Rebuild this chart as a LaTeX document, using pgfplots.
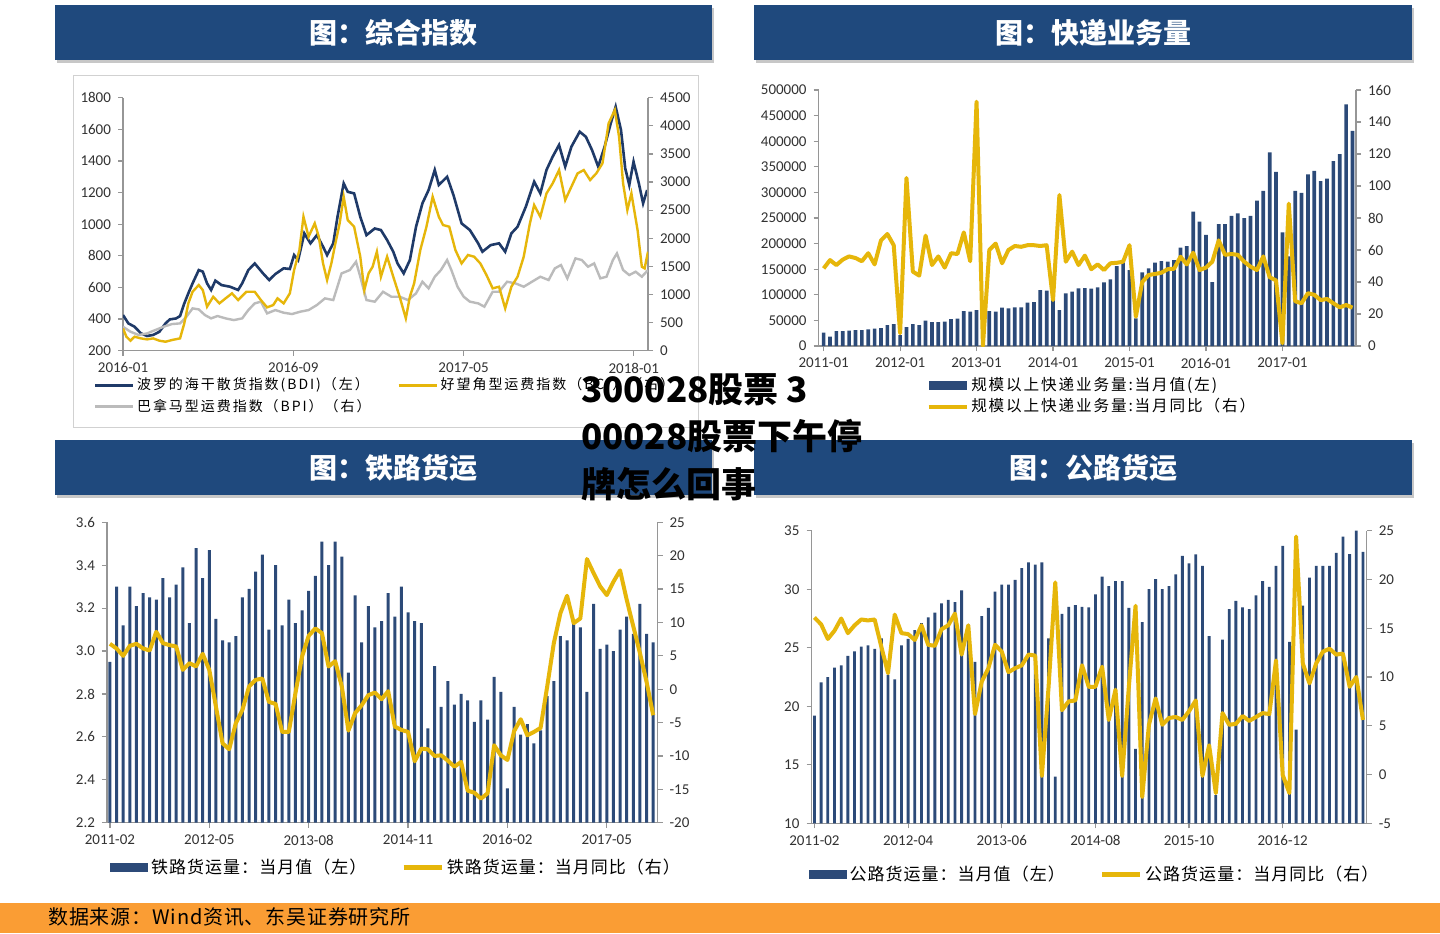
\documentclass[border=0pt]{standalone}
\usepackage{pgfplots}
\pgfplotsset{compat=1.18}
\usepackage{fontspec}
\setmainfont{Carlito}
\newfontfamily\cjk{Noto Sans CJK SC}
\newfontfamily\cjkA{Noto Sans CJK SC}[LetterSpace=14]
\newfontfamily\cjkB{Noto Sans CJK SC}[LetterSpace=12]
\newfontfamily\cjkC{Noto Sans CJK SC}[LetterSpace=6]
\newfontfamily\cjkD{Noto Sans CJK SC}[LetterSpace=4]
\definecolor{titleblue}{RGB}{31,73,125}
\definecolor{barblue}{RGB}{44,74,120}
\definecolor{bdiblue}{RGB}{31,58,104}
\definecolor{gold}{RGB}{230,182,10}
\definecolor{bpigray}{RGB}{187,187,187}
\definecolor{axgray}{RGB}{150,150,150}
\definecolor{orangebar}{RGB}{250,157,52}
\definecolor{ticktext}{RGB}{50,50,50}

\pgfplotsset{
  twin/.style={scale only axis, anchor=south west,
    axis line style={draw=axgray, line width=0.6pt},
    tick style={draw=axgray, line width=0.6pt},
    tick align=outside, major tick length=2.5pt,
    tick label style={font=\fontsize{7.5}{9}\selectfont, text=ticktext},
    scaled y ticks=false, scaled x ticks=false,
    /pgf/number format/assume math mode=true,
    legend cell align=left},
  leftax/.style={twin, axis x line*=bottom, axis y line*=left},
  rightax/.style={twin, axis x line=none, axis y line*=right},
  lineimg/.style={legend image code/.code={\draw[#1] (0pt,0pt) -- (19pt,0pt);}},
  barimg/.style={legend image code/.code={\fill[barblue] (0pt,-2.3pt) rectangle (19pt,2.3pt);}},
}

% ---------- Panel 1: composite indices ----------
\pgfplotstableread{
m v
0 426
0.25 373
0.54 352
0.84 310
1.13 293
1.42 300
1.71 320
2.0 373
2.2 398
2.49 404
2.68 419
2.88 499
3.07 563
3.27 626
3.56 710
3.75 700
3.95 626
4.14 584
4.34 643
4.63 615
5.02 605
5.41 584
5.6 626
5.89 710
6.19 752
6.58 689
6.87 647
7.16 685
7.55 721
7.84 717
8.04 805
8.23 773
8.52 942
8.81 879
9.11 931
9.4 858
9.59 805
9.88 879
10.08 1047
10.37 1258
10.56 1205
10.86 1195
11.15 1047
11.44 931
11.83 973
12.12 963
12.41 900
12.7 826
12.9 752
13.19 689
13.48 773
13.77 984
14.07 1132
14.36 1216
14.65 1343
14.84 1248
15.23 1300
15.53 1184
15.91 1005
16.3 963
16.69 879
16.89 826
17.28 868
17.67 879
17.96 826
18.25 942
18.54 984
18.93 1111
19.32 1269
19.61 1195
19.9 1343
20.19 1427
20.49 1501
20.78 1364
21.07 1490
21.46 1585
21.75 1553
22.04 1469
22.33 1364
22.63 1490
22.92 1638
23.15 1743
23.4 1596
23.6 1353
23.79 1248
23.99 1395
24.24 1258
24.44 1132
24.63 1216
}\bdi

\pgfplotstableread{
m v
0 397
0.16 249
0.35 178
0.54 249
0.84 219
1.13 202
1.42 219
1.71 178
2.0 160
2.3 190
2.68 219
2.88 486
3.07 842
3.27 1049
3.56 1168
3.75 1079
3.95 783
4.24 960
4.53 842
4.82 931
5.12 1020
5.41 901
5.8 1049
6.19 1049
6.48 901
6.77 771
7.06 812
7.26 931
7.55 842
7.84 1020
8.04 1435
8.29 1790
8.48 2383
8.72 2028
9.01 2265
9.2 2028
9.4 1553
9.59 1257
9.79 1553
9.98 1909
10.18 2265
10.37 2739
10.56 2324
10.86 2206
11.15 1672
11.34 1079
11.54 1375
11.73 1494
11.93 1761
12.12 1316
12.41 1672
12.7 1316
13.0 960
13.29 575
13.48 960
13.68 1198
13.97 1790
14.26 2206
14.55 2739
14.84 2383
15.04 2235
15.33 2206
15.62 1790
15.91 1553
16.21 1702
16.5 1672
16.79 1553
17.08 1346
17.37 1109
17.67 1138
17.96 753
18.25 1138
18.54 1316
18.83 1672
19.12 2265
19.32 2591
19.61 2383
19.9 2798
20.19 2976
20.49 3213
20.78 2680
21.07 2917
21.36 3154
21.65 3213
21.95 3036
22.24 3154
22.53 3332
22.82 4044
23.11 4281
23.31 3806
23.5 2976
23.7 2502
23.89 2798
24.18 2146
24.38 1494
24.51 1464
24.67 1761
}\bci

\pgfplotstableread{
m v
0 427
0.35 338
0.74 279
1.13 308
1.52 368
1.91 427
2.3 474
2.68 486
2.98 605
3.27 753
3.56 735
3.85 634
4.14 575
4.44 617
4.82 575
5.21 545
5.6 575
5.89 723
6.19 842
6.48 872
6.77 664
7.16 723
7.55 676
7.94 652
8.33 694
8.72 723
9.11 812
9.49 931
9.88 901
10.27 1375
10.66 1435
10.95 1583
11.15 1316
11.44 901
11.83 872
12.22 1049
12.61 960
13.0 960
13.39 901
13.77 1020
14.07 1227
14.36 1109
14.65 1316
14.94 1435
15.23 1613
15.43 1435
15.72 1138
16.01 960
16.3 872
16.69 842
16.98 783
17.37 1049
17.67 1049
18.05 1227
18.44 1198
18.83 1138
19.22 1227
19.61 1316
20.0 1257
20.29 1464
20.58 1524
20.88 1287
21.26 1642
21.56 1613
21.85 1494
22.14 1553
22.43 1287
22.72 1316
23.02 1613
23.21 1731
23.5 1435
23.79 1346
24.09 1405
24.38 1316
24.67 1435
}\bpi

% ---------- Panel 2: express volume ----------
\pgfplotstableread{
i v y
0 26040 48.5
1 18230 53.7
2 29300 50.6
3 29300 54
4 29950 56
5 31250 55
6 31250 53
7 32550 58
8 33850 51
9 35150 66
10 41010 70
11 42970 63
12 21480 8
13 37110 105
14 42970 46.5
15 41010 44
16 49480 69
17 46870 50.6
18 46870 56
19 47520 49
20 52730 58
21 53380 57.5
22 68360 71
23 67050 53
24 70310 152.7
25 44270 0
26 68360 60
27 67050 64
28 74870 51.7
29 73560 60
30 75520 62.5
31 75520 62
32 84630 63
33 85930 63
34 109370 62.5
35 108070 63
36 89840 28.7
37 70310 94.4
38 102860 52.7
39 106110 59
40 112620 50.6
41 113270 56.5
42 111970 48
43 114580 51
44 124340 47.5
45 130200 51.7
46 156240 52
47 163400 52.7
48 148430 63
49 54030 18.3
50 143870 40
51 151680 44.4
52 162750 45
53 166010 45.8
54 164700 48
55 167960 48.3
56 192050 55.8
57 195300 51
58 262350 58.3
59 242820 47.5
60 217000 49
61 125000 52.7
62 238000 66
63 238000 57
64 254000 57.5
65 259000 57
66 250000 52.7
67 254000 49.6
68 284000 47.5
69 303000 56
70 378000 43
71 340000 41
72 222000 1.7
73 175000 89
74 303000 28
75 299000 26.7
76 335000 33
77 342000 32
78 322000 28.7
79 327000 29.4
80 361000 26.7
81 375000 24.2
82 472000 25.6
83 420000 24
}\express

% ---------- Panel 3: rail freight ----------
\pgfplotstableread{
i v y
0 2.95 6.8
1 3.30 6.1
2 3.12 5.0
3 3.30 6.5
4 3.21 6.8
5 3.27 6.1
6 3.25 5.8
7 3.24 8.6
8 3.34 6.9
9 3.25 6.6
10 3.31 6.4
11 3.39 2.9
12 3.13 3.9
13 3.48 3.4
14 3.34 5.3
15 3.47 2.9
16 3.15 -2.6
17 3.05 -8.1
18 3.04 -9.0
19 3.07 -5.1
20 3.25 -3.1
21 3.29 0.4
22 3.37 1.4
23 3.45 1.6
24 3.10 -1.9
25 3.40 -2.2
26 3.12 -6.4
27 3.24 -6.4
28 3.13 -0.6
29 3.19 4.9
30 3.28 8.0
31 3.35 9.1
32 3.51 8.4
33 3.40 3.4
34 3.51 4.2
35 3.44 0.4
36 2.90 -6.2
37 3.26 -3.6
38 3.04 -2.4
39 3.21 -0.9
40 3.11 -0.5
41 3.14 -1.5
42 3.27 -0.3
43 3.16 -5.6
44 3.30 -6.1
45 3.18 -6.4
46 3.14 -10.8
47 3.13 -8.9
48 2.64 -9.0
49 2.93 -10.0
50 2.74 -9.9
51 2.86 -10.7
52 2.75 -11.6
53 2.80 -10.9
54 2.77 -15.2
55 2.67 -15.5
56 2.77 -16.4
57 2.68 -15.6
58 2.88 -8.4
59 2.81 -9.9
60 2.36 -10.6
61 2.74 -6.3
62 2.61 -4.5
63 2.66 -6.9
64 2.57 -6.4
65 2.63 -5.8
66 2.79 0.4
67 2.86 6.9
68 3.07 11.4
69 3.05 14.0
70 3.13 9.9
71 3.11 10.6
72 2.81 19.5
73 3.22 17.4
74 3.01 15.4
75 3.03 14.1
76 3.00 16.1
77 3.10 17.8
78 3.16 13.4
79 3.08 9.4
80 3.22 5.4
81 3.08 1.1
82 3.04 -3.9
}\rail

% ---------- Panel 4: road freight ----------
\pgfplotstableread{
i v y
0 19.2 16.1
1 22.05 15.4
2 22.5 13.9
3 23.3 14.75
4 23.5 16.0
5 24.3 14.5
6 24.7 15.3
7 25.1 15.9
8 25.2 15.8
9 24.9 15.9
10 25.8 13.1
11 22.7 10.4
12 22.3 16.4
13 25.2 14.5
14 25.75 14.4
15 26.5 13.8
16 27.1 15.3
17 27.6 13.3
18 28.0 13.2
19 28.8 14.9
20 29.1 15.3
21 28.9 16.5
22 29.9 12.3
23 27.0 15.3
24 23.8 6.2
25 27.7 9.5
26 28.4 10.9
27 29.8 13.3
28 30.4 12.6
29 30.4 10.5
30 30.8 10.9
31 31.8 11.2
32 32.3 12.3
33 32.1 12.2
34 32.3 -0.15
35 25.8 9
36 14.0 19.7
37 27.9 6.6
38 28.5 7.5
39 28.65 7.6
40 28.5 11.2
41 28.45 9.0
42 29.56 9.0
43 31.07 11.05
44 30.27 5.6
45 30.7 8.7
46 30.7 -0.15
47 28.4 9.0
48 16.35 17.3
49 27.2 -2.3
50 30.0 5.1
51 30.87 7.8
52 30.0 5.1
53 30.27 5.8
54 31.27 5.9
55 32.84 5.6
56 32.2 6.5
57 32.98 7.6
58 32.0 -0.15
59 26.0 3.0
60 12.4 -1.9
61 25.7 6.3
62 28.3 5.1
63 29.0 5.2
64 28.45 6.0
65 28.3 5.5
66 29.48 5.9
67 30.7 6.3
68 30.2 6.2
69 32.0 11.7
70 33.7 -0.05
71 25.5 -1.9
72 18.0 24.4
73 28.6 11.4
74 31.0 9.35
75 32.0 11.4
76 32.0 12.6
77 32.0 12.9
78 33.1 12.3
79 34.5 12.4
80 33.0 9.0
81 35.0 10.0
82 33.2 5.6
}\road

\begin{document}
\begin{tikzpicture}
\useasboundingbox (0pt,0pt) rectangle (720pt,-466.5pt);
\fill[white] (0pt,0pt) rectangle (720pt,-466.5pt);

% title bars
\foreach \xa/\xb/\ya/\yb in {27.5/356/-2.5/-30, 377/706/-2.5/-30, 27.5/356/-220/-247.5, 377/706/-220/-247.5}{
  \fill[black!22] (\xa pt+1.2pt,\ya pt-1.5pt) rectangle (\xb pt+1.2pt,\yb pt-1.5pt);
  \fill[titleblue] (\xa pt,\ya pt) rectangle (\xb pt,\yb pt);
}
\node[text=white, font=\cjk\bfseries\fontsize{14}{16}\selectfont] at (196.5pt,-16.5pt) {图：综合指数};
\node[text=white, font=\cjk\bfseries\fontsize{14}{16}\selectfont] at (546.5pt,-16.5pt) {图：快递业务量};
\node[text=white, font=\cjk\bfseries\fontsize{14}{16}\selectfont] at (196.5pt,-234pt) {图：铁路货运};
\node[text=white, font=\cjk\bfseries\fontsize{14}{16}\selectfont] at (546.5pt,-234pt) {图：公路货运};

% panel 1 frame
\draw[black!18, line width=0.5pt] (36.5pt,-37.5pt) rectangle (349pt,-213.5pt);

% ---------------- Panel 1 ----------------
\begin{axis}[leftax, at={(61.5pt,-175.35pt)}, width=262.5pt, height=126.5pt,
  xmin=0, xmax=24.67, ymin=200, ymax=1800,
  xtick={0,8,16,24}, xticklabels={2016-01,2016-09,2017-05,2018-01},
  ytick={200,400,...,1800}, yticklabels={200,400,600,800,1000,1200,1400,1600,1800},
  legend columns=2,
  legend style={draw=none, fill=none, at={(-0.057,-0.1)}, anchor=north west,
    font=\cjkA\fontsize{7}{8.5}\selectfont, row sep=2pt, inner sep=0pt,
    nodes={inner xsep=1.2pt, inner ysep=0.6pt},
    /tikz/every even column/.append style={column sep=12pt}}]
\addplot[bdiblue, line width=1.3pt, lineimg={bdiblue, line width=1.6pt}] table[x=m,y=v] {\bdi};
\addlegendentry{波罗的海干散货指数(BDI)（左）}
\addlegendimage{lineimg={gold, line width=1.6pt}}
\addlegendentry{好望角型运费指数（BCI）（右）}
\addlegendimage{lineimg={bpigray, line width=1.6pt}}
\addlegendentry{巴拿马型运费指数（BPI）（右）}
\end{axis}
\begin{axis}[rightax, at={(61.5pt,-175.35pt)}, width=262.5pt, height=126.5pt,
  xmin=0, xmax=24.67, ymin=0, ymax=4500,
  ytick={0,500,...,4500}, yticklabels={0,500,1000,1500,2000,2500,3000,3500,4000,4500}]
\addplot[bpigray, line width=1.2pt] table[x=m,y=v] {\bpi};
\addplot[gold, line width=1.2pt] table[x=m,y=v] {\bci};
\end{axis}

% ---------------- Panel 2 ----------------
\begin{axis}[leftax, at={(409.3pt,-173pt)}, width=268.7pt, height=128pt,
  xmin=-0.79, xmax=83.55, ymin=0, ymax=500000,
  xtick={0,12,...,72}, xticklabels={2011-01,2012-01,2013-01,2014-01,2015-01,2016-01,2017-01},
  ytick={0,50000,...,500000},
  yticklabels={0,50000,100000,150000,200000,250000,300000,350000,400000,450000,500000},
  legend style={draw=none, fill=none, at={(0.2,-0.115)}, anchor=north west,
    font=\cjkB\fontsize{7.8}{9}\selectfont, row sep=1.5pt, inner sep=0pt,
    nodes={inner xsep=1.2pt, inner ysep=0.6pt}}]
\addplot[ybar, bar width=0.58, fill=barblue, draw=none, barimg] table[x=i,y=v] {\express};
\addlegendentry{规模以上快递业务量:当月值(左)}
\addlegendimage{lineimg={gold, line width=2.2pt}}
\addlegendentry{规模以上快递业务量:当月同比（右）}
\end{axis}
\begin{axis}[rightax, at={(409.3pt,-173pt)}, width=268.7pt, height=128pt,
  xmin=-0.79, xmax=83.55, ymin=0, ymax=160,
  ytick={0,20,...,160}, yticklabels={0,20,40,60,80,100,120,140,160}]
\addplot[gold, line width=2pt, line join=round] table[x=i,y=y] {\express};
\end{axis}

% ---------------- Panel 3 ----------------
\begin{axis}[leftax, at={(53.5pt,-411.35pt)}, width=275.25pt, height=150.2pt,
  xmin=-0.44, xmax=82.65, ymin=2.2, ymax=3.6,
  xtick={0,15,...,75}, xticklabels={2011-02,2012-05,2013-08,2014-11,2016-02,2017-05},
  ytick={2.2,2.4,...,3.61}, yticklabels={2.2,2.4,2.6,2.8,3.0,3.2,3.4,3.6},
  legend columns=2,
  legend style={draw=none, fill=none, at={(0.005,-0.115)}, anchor=north west,
    font=\cjkC\fontsize{8.5}{10}\selectfont, inner sep=0pt,
    nodes={inner xsep=1.5pt, inner ysep=0.6pt},
    /tikz/every even column/.append style={column sep=16pt}}]
\addplot[ybar, bar width=0.45, fill=barblue, draw=none, barimg] table[x=i,y=v] {\rail};
\addlegendentry{铁路货运量：当月值（左）}
\addlegendimage{lineimg={gold, line width=2.2pt}}
\addlegendentry{铁路货运量：当月同比（右）}
\end{axis}
\begin{axis}[rightax, at={(53.5pt,-411.35pt)}, width=275.25pt, height=150.2pt,
  xmin=-0.44, xmax=82.65, ymin=-20, ymax=25,
  ytick={-20,-15,...,25}, yticklabels={-20,-15,-10,-5,0,5,10,15,20,25}]
\addplot[gold, line width=2pt, line join=round] table[x=i,y=y] {\rail};
\end{axis}

% ---------------- Panel 4 ----------------
\begin{axis}[leftax, at={(405.75pt,-411.65pt)}, width=277.65pt, height=146.3pt,
  xmin=-0.44, xmax=82.57, ymin=10, ymax=35,
  xtick={0,14,...,70}, xticklabels={2011-02,2012-04,2013-06,2014-08,2015-10,2016-12},
  ytick={10,15,...,35}, yticklabels={10,15,20,25,30,35},
  legend columns=2,
  legend style={draw=none, fill=none, at={(-0.006,-0.14)}, anchor=north west,
    font=\cjkC\fontsize{8.5}{10}\selectfont, inner sep=0pt,
    nodes={inner xsep=1.5pt, inner ysep=0.6pt},
    /tikz/every even column/.append style={column sep=16pt}}]
\addplot[ybar, bar width=0.42, fill=barblue, draw=none, barimg] table[x=i,y=v] {\road};
\addlegendentry{公路货运量：当月值（左）}
\addlegendimage{lineimg={gold, line width=2.2pt}}
\addlegendentry{公路货运量：当月同比（右）}
\end{axis}
\begin{axis}[rightax, at={(405.75pt,-411.65pt)}, width=277.65pt, height=146.3pt,
  xmin=-0.44, xmax=82.57, ymin=-5, ymax=25,
  ytick={-5,0,...,25}, yticklabels={-5,0,5,10,15,20,25}]
\addplot[gold, line width=2pt, line join=round] table[x=i,y=y] {\road};
\end{axis}

% bottom bar
\fill[orangebar] (0pt,-451.5pt) rectangle (720pt,-466.5pt);
\node[anchor=west, inner sep=0pt, font=\cjkD\fontsize{10}{12}\selectfont] at (24pt,-458.5pt) {数据来源：Wind资讯、东吴证券研究所};

% overlay text
\node[anchor=base west, inner sep=0pt, font=\cjk\bfseries\fontsize{17.5}{20}\selectfont] at (290.3pt,-201pt) {300028股票 3};
\node[anchor=base west, inner sep=0pt, font=\cjk\bfseries\fontsize{17.5}{20}\selectfont] at (290.3pt,-224.5pt) {00028股票下午停};
\node[anchor=base west, inner sep=0pt, font=\cjk\bfseries\fontsize{17.5}{20}\selectfont] at (290.3pt,-248.5pt) {牌怎么回事};
\end{tikzpicture}
\end{document}
